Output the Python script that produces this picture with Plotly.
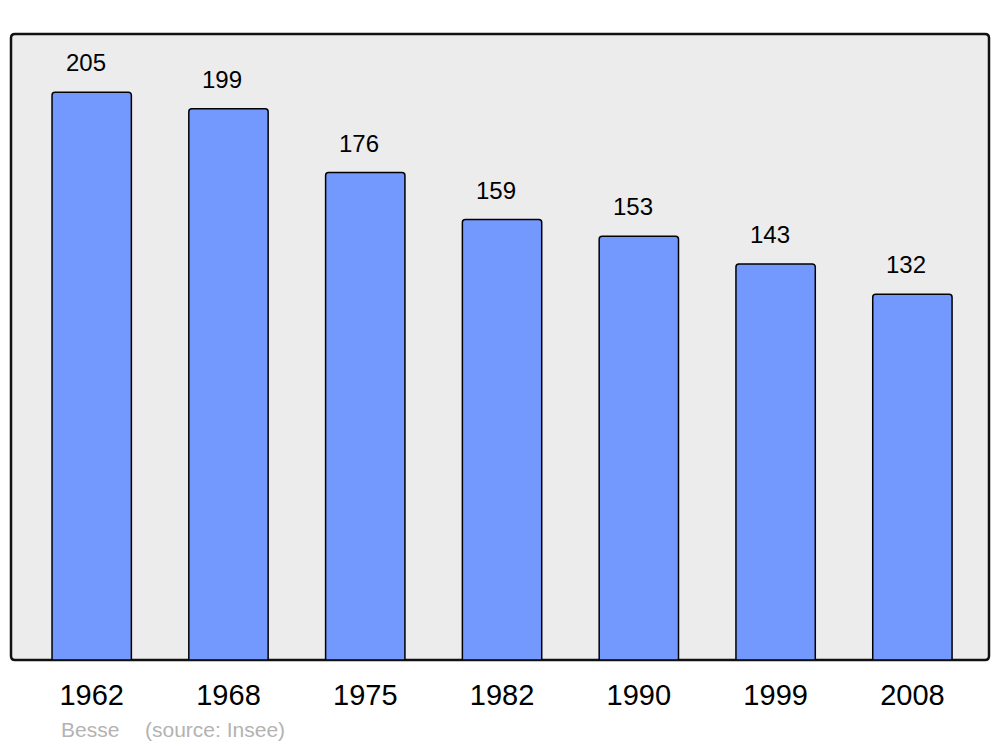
import plotly.graph_objects as go

years = ["1962", "1968", "1975", "1982", "1990", "1999", "2008"]
population = [205, 199, 176, 159, 153, 143, 132]
commune = "Besse"
source_text = "(source: Insee)"

# page has an ~8px body margin, so the figure is sized/offset to compensate
W, H = 992, 739
ml, mr, mt, mb = 3, 11, 26, 87
pw, ph = W - ml - mr, H - mt - mb
FONT = "Liberation Sans, Arial, sans-serif"

fig = go.Figure()
fig.add_trace(go.Bar(
    x=years, y=population, width=0.58,
    marker=dict(color="#7399ff", line=dict(color="#000000", width=1.5), cornerradius=3),
    hoverinfo="skip",
))

for i, v in enumerate(population):
    fig.add_annotation(x=i, y=v, text=str(v), showarrow=False, yanchor="bottom",
                       yshift=14, xshift=-6, font=dict(family=FONT, size=24, color="#000"))

# rounded frame
rx, ry = 4 / pw, 4 / ph
path = (f"M {rx},0 L {1-rx},0 Q 1,0 1,{ry} L 1,{1-ry} Q 1,1 {1-rx},1 "
        f"L {rx},1 Q 0,1 0,{1-ry} L 0,{ry} Q 0,0 {rx},0 Z")
fig.add_shape(type="path", path=path, xref="paper", yref="paper",
              fillcolor="#ececec", line=dict(color="#111111", width=2.5), layer="below")

fy = -69 / ph
fig.add_annotation(x=(59 - 8 - ml) / pw, y=fy, xref="paper", yref="paper",
                   text=commune, showarrow=False, xanchor="left", yanchor="middle",
                   font=dict(family=FONT, size=21, color="#b3b3b3"))
fig.add_annotation(x=(143 - 8 - ml) / pw, y=fy, xref="paper", yref="paper",
                   text=source_text, showarrow=False, xanchor="left", yanchor="middle",
                   font=dict(family=FONT, size=21, color="#b3b3b3"))

fig.update_layout(
    width=W, height=H,
    margin=dict(l=ml, r=mr, t=mt, b=mb),
    paper_bgcolor="white", plot_bgcolor="rgba(0,0,0,0)",
    showlegend=False,
    font=dict(family=FONT, color="#000"),
    xaxis=dict(range=[-0.59, 6.56], showgrid=False, zeroline=False, showline=False,
               ticks="", tickfont=dict(size=29), ticklabelstandoff=15),
    yaxis=dict(range=[0, 226], showgrid=False, zeroline=False, showline=False,
               showticklabels=False, ticks=""),
)

fig.write_html("out.html")
